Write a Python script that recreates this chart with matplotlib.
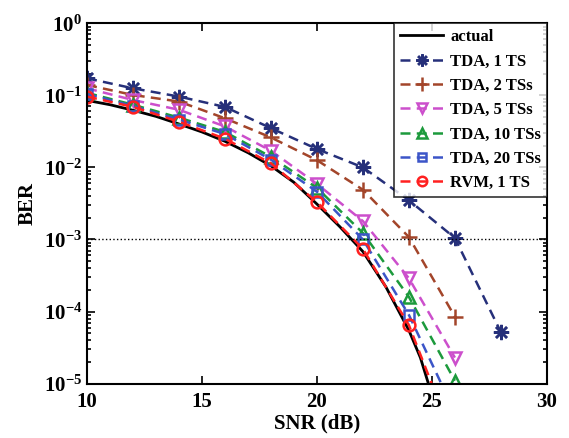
import numpy as np
import matplotlib
matplotlib.use("Agg")
import matplotlib.pyplot as plt

plt.rcParams['font.family'] = ['Liberation Serif', 'DejaVu Serif']
plt.rcParams['font.weight'] = 'bold'
plt.rcParams['mathtext.fontset'] = 'custom'
plt.rcParams['mathtext.rm'] = 'Liberation Serif:bold'
plt.rcParams['mathtext.bf'] = 'Liberation Serif:bold'

snr = [10, 12, 14, 16, 18, 20, 22, 24, 26, 28]

# theoretical curve
snr_actual = [10, 11, 12, 13, 14, 15, 16, 17, 18, 19, 20, 21, 22, 23, 24, 24.5, 25]
ber_actual = [0.085, 0.074, 0.062, 0.051, 0.040, 0.031, 0.023, 0.016, 0.0105,
              0.0062, 0.0031, 0.0015, 0.00068, 0.00022, 5.5e-5, 2.3e-5, 7e-6]

ber_tda1 = [0.172, 0.125, 0.096, 0.069, 0.035, 0.018, 0.010, 0.0035, 0.00105, 5.2e-5]
ber_tda2 = [0.139, 0.101, 0.082, 0.048, 0.026, 0.0126, 0.0049, 0.00108, 8.5e-5]
ber_tda5 = [0.125, 0.086, 0.063, 0.037, 0.017, 0.0059, 0.0018, 0.00029, 2.3e-5]
ber_tda10 = [0.108, 0.074, 0.049, 0.031, 0.014, 0.0052, 0.00123, 0.00016, 1.1e-5]
ber_tda20 = [0.104, 0.071, 0.046, 0.029, 0.0128, 0.0046, 0.0010, 9.0e-5, 4e-6]
ber_rvm = [0.096, 0.069, 0.043, 0.025, 0.0114, 0.0033, 0.00074, 6.5e-5, 1.5e-6]

asterisk = (8, 2, 0)
series = [
    ("TDA, 1 TS", ber_tda1, '#26307a', asterisk, 'full', 11),
    ("TDA, 2 TSs", ber_tda2, '#a3452a', '+', 'full', 12),
    ("TDA, 5 TSs", ber_tda5, '#cc4fcc', 'v', 'none', 9),
    ("TDA, 10 TSs", ber_tda10, '#1c9a3c', '^', 'none', 9),
    ("TDA, 20 TSs", ber_tda20, '#3c55c8', 's', 'none', 7.5),
    ("RVM, 1 TS", ber_rvm, '#ff2020', 'o', 'none', 8.5),
]

fig = plt.figure(figsize=(5.69, 4.38), dpi=100)
ax = fig.add_axes([0.153, 0.124, 0.808, 0.823])

ax.plot(snr_actual, ber_actual, color='black', lw=2, label='actual')
for name, vals, col, mk, fill, ms in series:
    ax.plot(snr[:len(vals)], vals, ls='--', dashes=(4, 2.5), color=col, lw=1.8,
            marker=mk, ms=ms, mew=1.8, fillstyle=fill, label=name)

ax.axhline(1e-3, color='black', ls=':', lw=1)

ax.set_yscale('log')
ax.set_xlim(10, 30)
ax.set_ylim(1e-5, 1)
ax.set_xticks([10, 15, 20, 25, 30])
ax.set_xlabel('SNR (dB)', fontsize=15, fontweight='bold', labelpad=1)
ax.set_ylabel('BER', fontsize=15, fontweight='bold', labelpad=4)
ax.tick_params(which='both', direction='in', top=True, right=True,
               labelsize=15, width=1.2)
ax.tick_params(axis='x', pad=6)
ax.tick_params(which='major', length=6)
ax.tick_params(which='minor', length=3)
for sp in ax.spines.values():
    sp.set_linewidth(1.5)

leg = ax.legend(loc='upper right', fontsize=12, frameon=True, fancybox=False,
                edgecolor='black', handlelength=2.6, handletextpad=0.4,
                borderpad=0.35, labelspacing=0.5, borderaxespad=0.0,
                markerscale=0.8)
leg.get_frame().set_linewidth(1.2)

fig.savefig('out.png', dpi=100)
